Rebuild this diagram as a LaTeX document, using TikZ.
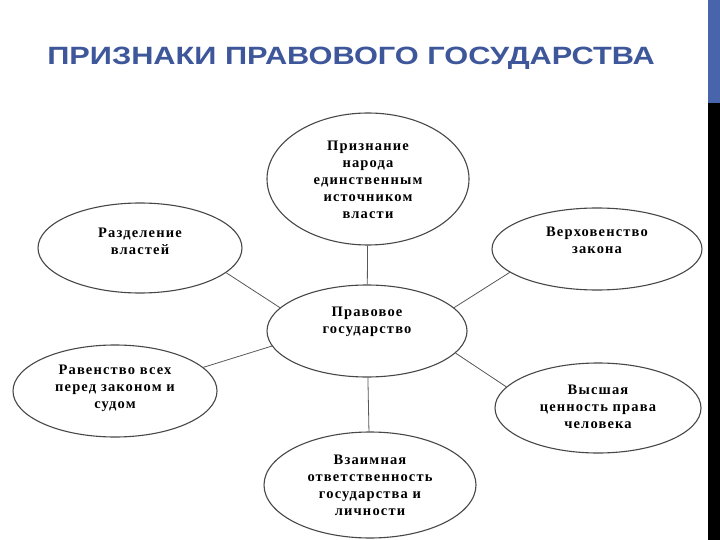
\documentclass[tikz,border=0pt]{standalone}
\usepackage{fontspec}
\setmainfont{Liberation Serif}
\newfontfamily\titlefont{Liberation Sans}
\usetikzlibrary{shapes.geometric}
\definecolor{titleblue}{HTML}{3E579B}
\definecolor{barblue}{HTML}{4864AA}

\begin{document}
\begin{tikzpicture}[x=1pt, y=-1pt,
  ell/.style={draw=black!72, line width=1.1pt, ellipse, inner sep=0pt},
  txt/.style={align=center, font=\fontsize{14.5}{17}\selectfont\bfseries\addfontfeature{LetterSpace=8}},
  link/.style={draw=black!65, line width=0.8pt}
]
\useasboundingbox[fill=white] (0,0) rectangle (720,540);
% right edge strip
\fill[barblue] (708,0) rectangle (720,103);
\fill[black] (708,103) rectangle (720,540);
% title
\node[anchor=base, text=titleblue, font=\titlefont\bfseries\fontsize{25}{30}\selectfont] (title) at (351,65)
  {\scalebox{1.23}[1]{ПРИЗНАКИ ПРАВОВОГО ГОСУДАРСТВА}};
% ellipses
\node[ell, minimum width=202, minimum height=132] (top) at (368,179) {};
\node[ell, minimum width=204, minimum height=90] (lt) at (140,248) {};
\node[ell, minimum width=210, minimum height=82] (rt) at (597,249) {};
\node[ell, minimum width=200, minimum height=92] (main) at (367,331) {};
\node[ell, minimum width=204, minimum height=92] (lb) at (115,391) {};
\node[ell, minimum width=206, minimum height=90] (rb) at (598,408) {};
\node[ell, minimum width=212, minimum height=106] (bot) at (370,485) {};
% texts
\node[txt] (topT) at (368,180) {Признание\\народа\\единственным\\источником\\власти};
\node[txt] (ltT) at (140,241) {Разделение\\властей};
\node[txt] (rtT) at (597,240) {Верховенство\\закона};
\node[txt] (mainT) at (367,322) {Правовое\\государство};
\node[txt] (lbT) at (115,388) {Равенство всех\\перед законом и\\судом};
\node[txt] (rbT) at (598,407) {Высшая\\ценность права\\человека};
\node[txt] (botT) at (370,485) {Взаимная\\ответственность\\государства и\\личности};
% connectors
\draw[link] (top) -- (main);
\draw[link] (main) -- (bot);
\draw[link] (lt.-16) -- (main.165);
\draw[link] (rt.195) -- (main.15);
\draw[link] (lb.15) -- (main.189);
\draw[link] (rb.167) -- (main.-14);
\end{tikzpicture}
\end{document}
